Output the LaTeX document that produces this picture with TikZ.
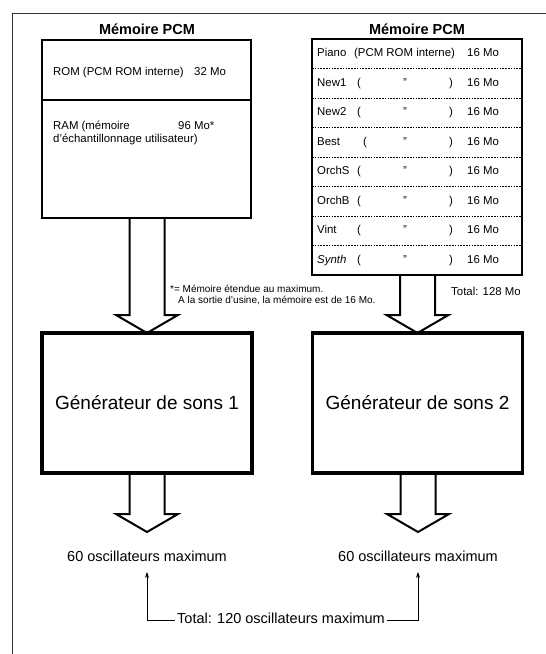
\documentclass[tikz,border=0pt]{standalone}
\usepackage{fontspec}
\setmainfont{Liberation Sans}
\usetikzlibrary{calc,arrows.meta}
\newcommand\blkarrow[2]{%
  \draw[blockarr] let \p1=(#1), \p2=(#2) in
    (\x2-17.5pt,\y1) -- (\x2-17.5pt,\y2+18pt) -- (\x2-31pt,\y2+18pt) -- (\x2,\y2)
    -- (\x2+31pt,\y2+18pt) -- (\x2+17.5pt,\y2+18pt) -- (\x2+17.5pt,\y1);}
\begin{document}
\begin{tikzpicture}[x=1pt,y=-1pt,
  membox/.style={draw,line width=2.6pt,inner sep=0pt,outer sep=0pt},
  genbox/.style={draw,line width=3.4pt,inner sep=0pt,outer sep=0pt,font=\fontsize{19}{22}\selectfont},
  txt/.style={inner sep=0pt,anchor=west,font=\fontsize{11.4}{13}\selectfont,text height=8pt,text depth=2.5pt},
  titlebox/.style={inner sep=0pt,font=\fontsize{14.5}{17}\bfseries\selectfont},
  lbl/.style={inner sep=0pt,font=\fontsize{14.5}{17}\selectfont,text height=10.5pt,text depth=3pt},
  note/.style={inner sep=0pt,anchor=west,font=\fontsize{10}{11.5}\selectfont,align=left},
  sepline/.style={line width=0.7pt,dash pattern=on 1.6pt off 1.2pt},
  blockarr/.style={line width=2pt,line join=miter},
  conn/.style={line width=0.8pt},
  frameline/.style={line width=0.8pt,black!80}]
\useasboundingbox (0,0) rectangle (546,654);
% frame
\coordinate (fc) at (12,13);
\coordinate (fr) at (546,13);
\coordinate (fb) at (12,654);
\draw[frameline] (fr) -- (fc) -- (fb);
% titles
\node[titlebox] (t1) at (147,29) {Mémoire PCM};
\node[titlebox] (t2) at (417,29) {Mémoire PCM};
% left memory box
\node[membox,minimum width=209pt,minimum height=178pt] (mem1) at (146.5,129) {};
\coordinate (d1) at (0,100);
\draw[line width=2.6pt] (mem1.west |- d1) -- (mem1.east |- d1);
\node[txt] (rom) at (53,73) {ROM (PCM ROM interne)};
\node[txt] (rom32) at (194,73) {32 Mo};
\node[txt] (ram) at (53,127) {RAM (mémoire};
\node[txt] (ram96) at (178,127) {96 Mo*};
\node[txt] (ram2) at (53,140) {d'échantillonnage utilisateur)};
% right memory box
\node[membox,minimum width=210pt,minimum height=236pt] (mem2) at (417,157) {};
\foreach \k in {1,...,7}
  \draw[sepline] ($(mem2.north west)+(0,29.5*\k)$) -- ($(mem2.north east)+(0,29.5*\k)$);
\node[txt] (nm0) at (317,53.75) {Piano};
\node[txt] (pcm0) at (354,53.75) {(PCM ROM interne)};
\node[txt] (mb0) at (467,53.75) {16 Mo};
\foreach \k/\nm/\px in {1/New1/357,2/New2/357,3/Best/363,4/OrchS/357,5/OrchB/357,6/Vint/357,7/\textit{Synth}/357}{
  \node[txt] (nm\k) at (317,{39+29.5*(\k+0.5)}) {\nm};
  \node[txt] (lp\k) at (\px,{39+29.5*(\k+0.5)}) {(};
  \node[txt] (q\k) at (403,{39+29.5*(\k+0.5)}) {\char34};
  \node[txt] (rp\k) at (449,{39+29.5*(\k+0.5)}) {)};
  \node[txt] (mb\k) at (467,{39+29.5*(\k+0.5)}) {16 Mo};
}
\node[txt] (tot128) at (451,293) {Total: 128 Mo};
% footnote
\node[note] (fn1) at (170,289) {*= Mémoire étendue au maximum.};
\node[note] (fn2) at (178,300.5) {A la sortie d'usine, la mémoire est de 16 Mo.};
% generators
\node[genbox,minimum width=210pt,minimum height=140pt] (gen1) at (147,403) {Générateur de sons 1};
\node[genbox,minimum width=210pt,minimum height=140pt] (gen2) at (417.5,403) {Générateur de sons 2};
% block arrows
\blkarrow{mem1.south}{gen1.north}
\blkarrow{mem2.south}{gen2.north}
\coordinate (tip1) at (147,532);
\coordinate (tip2) at (418,532);
\blkarrow{gen1.south}{tip1}
\blkarrow{gen2.south}{tip2}
% outputs
\node[lbl] (osc1) at (147,558) {60 oscillateurs maximum};
\node[lbl] (osc2) at (418,558) {60 oscillateurs maximum};
\node[lbl,inner xsep=2pt] (tot) at (281,620) {Total: 120 oscillateurs maximum};
\draw[conn,-{Stealth[length=6pt,width=4pt]},shorten >=7pt] (tot.west) -| (osc1.south);
\draw[conn,-{Stealth[length=6pt,width=4pt]},shorten >=7pt] (tot.east) -| (osc2.south);
\end{tikzpicture}
\end{document}
